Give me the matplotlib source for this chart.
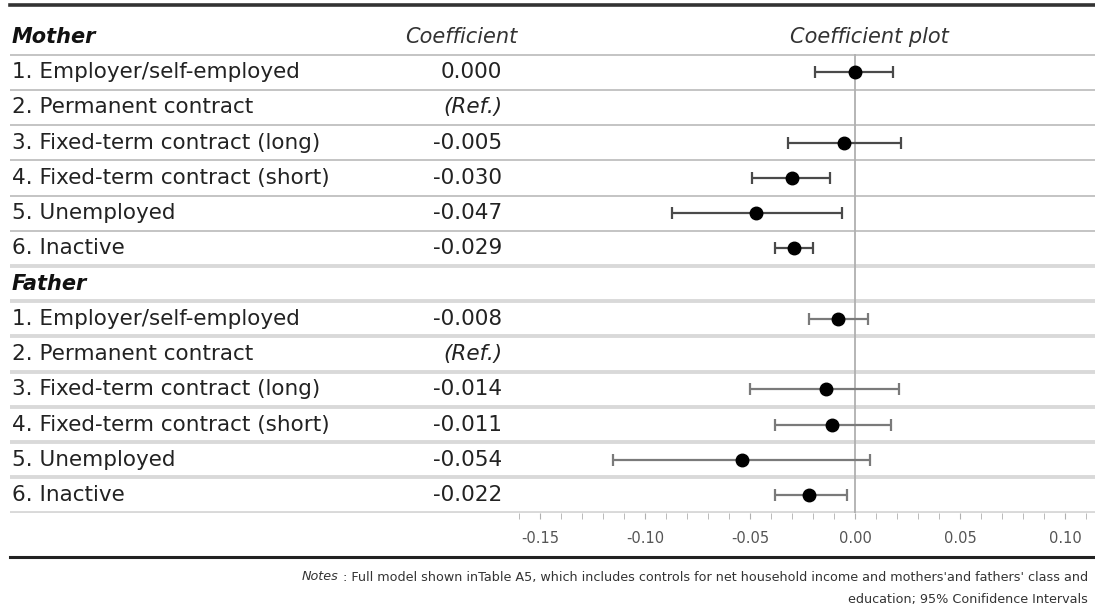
import matplotlib
matplotlib.use("Agg")
import matplotlib.pyplot as plt
import matplotlib.transforms as mtransforms
from matplotlib.ticker import FixedLocator

plt.rcParams['font.family'] = ['DejaVu Sans']

# data
categories = ["1. Employer/self-employed", "2. Permanent contract",
              "3. Fixed-term contract (long)", "4. Fixed-term contract (short)",
              "5. Unemployed", "6. Inactive"]
mother_coef = [0.000, None, -0.005, -0.030, -0.047, -0.029]
mother_lo = [-0.019, None, -0.032, -0.049, -0.087, -0.038]
mother_hi = [0.018, None, 0.022, -0.012, -0.006, -0.020]
father_coef = [-0.008, None, -0.014, -0.011, -0.054, -0.022]
father_lo = [-0.022, None, -0.050, -0.038, -0.115, -0.038]
father_hi = [0.006, None, 0.021, 0.017, 0.007, -0.004]
tick_values = [-0.15, -0.10, -0.05, 0.00, 0.05, 0.10]

W, H = 1095, 610
FS = 15.5
fig = plt.figure(figsize=(W / 100, H / 100), dpi=100)
ax_bottom, ax_top = 512.6, 5
ax = fig.add_axes([0, 1 - ax_bottom / H, 1, (ax_bottom - ax_top) / H])
ax.set_xlim(-855 / 2100, 240 / 2100)
ax.set_ylim(13.5, -0.5 - 14.4 / 35.2)
for s in ax.spines.values():
    s.set_visible(False)
ax.set_yticks([])

tr = mtransforms.blended_transform_factory(ax.transAxes, ax.transData)
px = lambda x: x / W

# header rows
ax.text(px(12), 0, "Mother", transform=tr, ha='left', va='center',
        fontsize=15, fontweight='bold', style='italic', color='#111')
ax.text(px(461), 0, "Coefficient", transform=tr, ha='center', va='center',
        fontsize=15, style='italic', color='#333')
ax.text(px(869), 0, "Coefficient plot", transform=tr, ha='center', va='center',
        fontsize=15, style='italic', color='#333')
ax.text(px(12), 7, "Father", transform=tr, ha='left', va='center',
        fontsize=15, fontweight='bold', style='italic', color='#111')

groups = [(1, mother_coef, mother_lo, mother_hi, '#4a4a4a'),
          (8, father_coef, father_lo, father_hi, '#7a7a7a')]
for start, coef, lo, hi, ecol in groups:
    for i, lab in enumerate(categories):
        y = start + i
        ax.text(px(12), y, lab, transform=tr, ha='left', va='center',
                fontsize=FS, color='#222')
        if coef[i] is None:
            ax.text(px(502), y, "(Ref.)", transform=tr, ha='right', va='center',
                    fontsize=FS, style='italic', color='#222')
            continue
        ax.text(px(502), y, f"{coef[i]:.3f}", transform=tr, ha='right',
                va='center', fontsize=FS, color='#222')
        ax.errorbar(coef[i], y, xerr=[[coef[i] - lo[i]], [hi[i] - coef[i]]],
                    fmt='o', color='black', ecolor=ecol, markersize=9,
                    elinewidth=1.6, capsize=4, capthick=1.6, zorder=3)

# row separators
for k in range(14):
    thin = k < 6
    ax.plot([px(10), 1], [k + 0.5, k + 0.5], transform=tr,
            color='#c4c4c4' if thin else '#d9d9d9', lw=1.4 if thin else 2.8,
            zorder=1, solid_capstyle='butt')

# zero line
ax.plot([0, 0], [0.5, 13.6], color='#b0b0b0', lw=1.3, zorder=2)

# x axis
ax.set_xticks(tick_values)
ax.set_xticklabels([f"{v:.2f}" for v in tick_values])
ax.xaxis.set_minor_locator(FixedLocator([round(-0.16 + 0.01 * i, 2) for i in range(28)]))
ax.tick_params(axis='x', which='both', direction='out', length=4,
               color='#b0b0b0', labelcolor='#555555', labelsize=10.5, pad=9)

# thick top and bottom rules
fig.add_artist(plt.Line2D([px(10), 1], [1 - 5 / H, 1 - 5 / H],
                          color='#333333', lw=2.6, transform=fig.transFigure))
fig.add_artist(plt.Line2D([px(10), 1], [1 - 557 / H, 1 - 557 / H],
                          color='#222222', lw=2.2, transform=fig.transFigure))

# notes
note1 = fig.text(px(1088), 1 - 577 / H,
                 ": Full model shown inTable A5, which includes controls for net household income and mothers'and fathers' class and",
                 ha='right', va='center', fontsize=9.2, color='#333')
fig.text(px(1088), 1 - 600 / H, "education; 95% Conifidence Intervals",
         ha='right', va='center', fontsize=9.2, color='#333')
fig.canvas.draw()
bb = note1.get_window_extent()
fig.text((bb.x0 - 4) / W, 1 - 577 / H, "Notes", ha='right', va='center',
         fontsize=9.2, style='italic', color='#333')

fig.savefig("out.png", dpi=100)
